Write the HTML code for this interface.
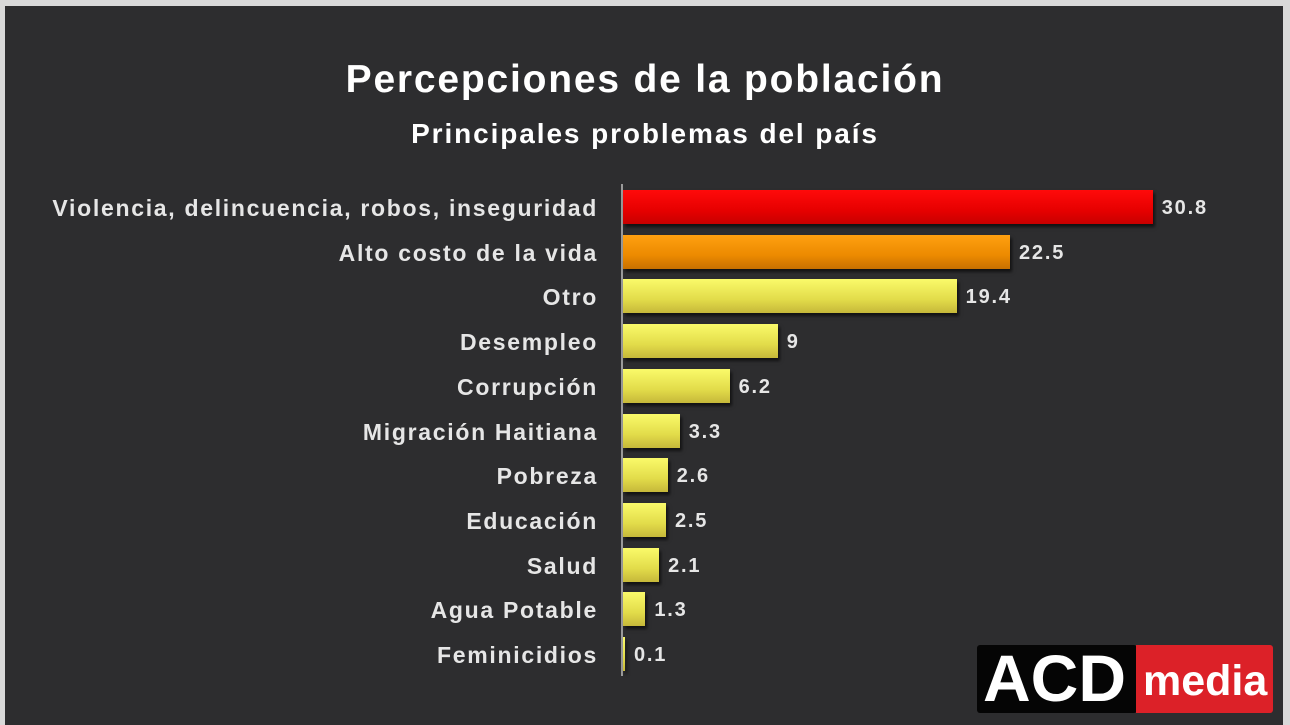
<!DOCTYPE html>
<html><head><meta charset="utf-8"><style>
body{margin:0;width:1290px;height:725px;background:#d9d9d9;overflow:hidden;font-family:"Liberation Sans",sans-serif}
#p{position:absolute;left:5px;top:6px;width:1278px;height:719px;background:#2d2d2f}
.t{position:absolute;color:#fff;font-weight:bold;text-align:center;width:1290px;left:0}
.l{position:absolute;right:692px;color:#e6e6e6;font-weight:bold;font-size:23px;letter-spacing:1.7px;white-space:nowrap;line-height:26px}
.b{position:absolute;left:623px;height:34px;box-shadow:2px 3px 3px rgba(0,0,0,.6)}
.y{background:linear-gradient(180deg,#fafa6a,#e2dc4a 60%,#c6b83a)}
.v{position:absolute;color:#e6e6e6;font-weight:bold;font-size:20px;letter-spacing:1.8px;line-height:26px}
</style></head><body><div id="p"></div>
<div class="t" style="top:58px;font-size:39px;letter-spacing:1.8px">Percepciones de la población</div>
<div class="t" style="top:118px;font-size:28px;letter-spacing:1.9px">Principales problemas del país</div>
<div style="position:absolute;left:621px;top:184px;width:2px;height:492px;background:#9a9a9a"></div>
<div id="c"></div>
<script>
const d=[["Violencia, delincuencia, robos, inseguridad",30.8,"linear-gradient(180deg,#ff0a0a,#e60000 60%,#c80000)"],["Alto costo de la vida",22.5,"linear-gradient(180deg,#ffa010,#ec8a00 60%,#c87000)"],["Otro",19.4],["Desempleo",9],["Corrupción",6.2],["Migración Haitiana",3.3],["Pobreza",2.6],["Educación",2.5],["Salud",2.1],["Agua Potable",1.3],["Feminicidios",0.1]];
let h="";d.forEach((r,i)=>{const c=207+i*44.7,w=Math.max(r[1]*17.2,2);
h+=`<div class="l" style="top:${c-12}px">${r[0]}</div><div class="b ${r[2]?'':'y'}" style="top:${c-17}px;width:${w}px;${r[2]?'background:'+r[2]:''}"></div><div class="v" style="top:${c-12}px;left:${623+w+9}px">${r[1]}</div>`});
document.getElementById("c").innerHTML=h;
</script>
<div style="position:absolute;left:977px;top:645px;width:160px;height:68px;background:#050505;border-radius:3px"></div>
<div style="position:absolute;left:1136px;top:645px;width:137px;height:68px;background:#dc2128;border-radius:0 3px 3px 0"></div>
<div style="position:absolute;left:983px;top:640px;color:#fff;font-weight:bold;font-size:66px;letter-spacing:0px;line-height:76px">ACD</div>
<div style="position:absolute;left:1143px;top:656px;color:#fff;font-weight:bold;font-size:43px;line-height:50px">media</div>
</body></html>
